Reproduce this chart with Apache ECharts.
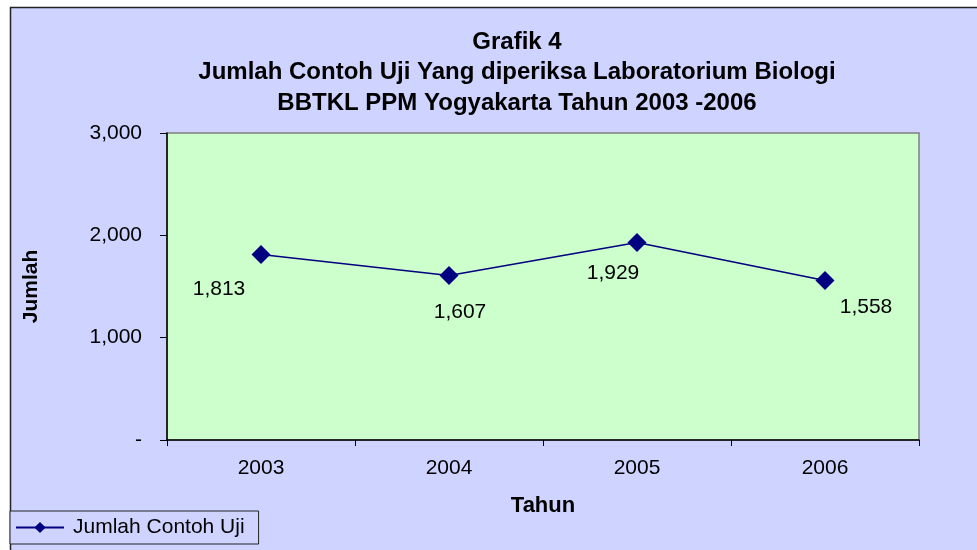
<!DOCTYPE html>
<html><head><meta charset="utf-8">
<script src="https://cdn.jsdelivr.net/npm/echarts@6/dist/echarts.min.js"></script>
<style>html,body{margin:0;padding:0;background:#fff}#c{width:977px;height:550px}</style>
</head><body><div id="c"></div>
<script>
var categories = ['2003', '2004', '2005', '2006'];
var values = [1813, 1607, 1929, 1558];
var seriesName = 'Jumlah Contoh Uji';
var yTicks = [0, 1000, 2000, 3000];
var labelOffsets = [[-42, 35], [11, 37], [-24, 31], [41, 27]];

var chart = echarts.init(document.getElementById('c'));
var FONT = '"Liberation Sans", Arial, sans-serif';
chart.setOption({
  animation: false,
  backgroundColor: '#ffffff',
  graphic: [{
    type: 'rect', z: -10,
    shape: {x: 10.5, y: 7.5, width: 1000, height: 600},
    style: {fill: '#CFD3FF', stroke: '#222', lineWidth: 1.5}
  }],
  title: {
    text: 'Grafik 4\nJumlah Contoh Uji Yang diperiksa Laboratorium Biologi\nBBTKL PPM Yogyakarta Tahun 2003 -2006',
    left: 512, top: 22, textAlign: 'center',
    textStyle: {fontFamily: FONT, fontWeight: 'bold', fontSize: 24, lineHeight: 30.5, color: '#000'}
  },
  legend: {
    left: 10, top: 511,
    backgroundColor: '#CFD3FF', borderColor: '#222', borderWidth: 1,
    padding: [6, 14, 6, 5],
    itemWidth: 48, itemHeight: 14, itemGap: 4,
    textStyle: {fontFamily: FONT, fontSize: 21, color: '#000', padding: [0, 0, 0, 4]},
    data: [{name: seriesName}]
  },
  grid: {
    left: 167, top: 133, width: 752, height: 307,
    show: true, backgroundColor: '#CCFFCC', borderColor: '#808080', borderWidth: 1.5,
    containLabel: false
  },
  xAxis: {
    type: 'category', data: categories, boundaryGap: true,
    name: 'Tahun', nameLocation: 'middle', nameGap: 55,
    nameTextStyle: {fontFamily: FONT, fontWeight: 'bold', fontSize: 22, color: '#000'},
    axisLine: {lineStyle: {color: '#000', width: 1.5}},
    axisTick: {show: true, length: 6, inside: false, lineStyle: {color: '#000'}},
    axisLabel: {fontFamily: FONT, fontSize: 21, color: '#000', margin: 18}
  },
  yAxis: {
    type: 'value', min: 0, max: 3000, interval: 1000,
    name: 'Jumlah', nameLocation: 'middle', nameGap: 125, nameRotate: 90,
    nameTextStyle: {fontFamily: FONT, fontWeight: 'bold', fontSize: 21, color: '#000'},
    splitLine: {show: false},
    axisLine: {show: true, lineStyle: {color: '#000', width: 1.5}},
    axisTick: {show: true, length: 7, lineStyle: {color: '#000'}},
    axisLabel: {
      fontFamily: FONT, fontSize: 21, color: '#000', margin: 25,
      formatter: function (v) { return v === 0 ? '-' : v.toLocaleString('en-US'); }
    }
  },
  series: [{
    name: seriesName, type: 'line',
    symbol: 'diamond', symbolSize: 19,
    itemStyle: {color: '#000080'},
    lineStyle: {color: '#000080', width: 1.5},
    data: values.map(function (v, i) {
      return {
        value: v,
        label: {
          show: true, position: 'inside', offset: labelOffsets[i],
          fontFamily: FONT, fontSize: 21, color: '#000',
          formatter: function (p) { return p.value.toLocaleString('en-US'); }
        }
      };
    })
  }]
});
</script></body></html>
